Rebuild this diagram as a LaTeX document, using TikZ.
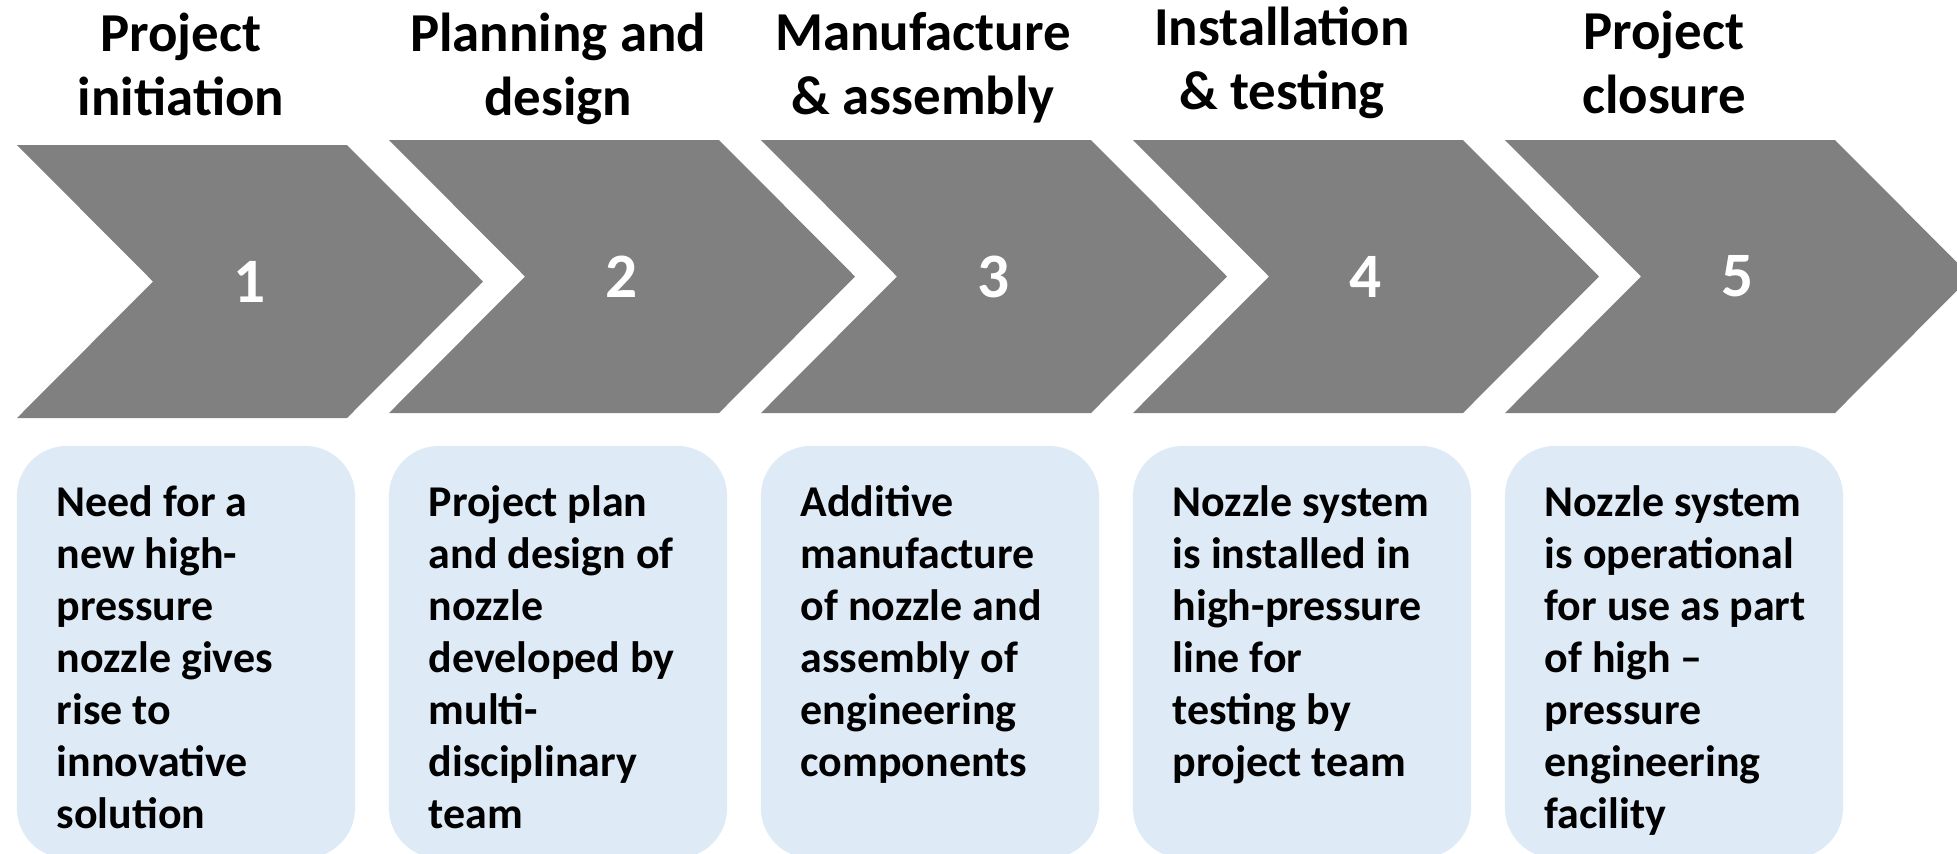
\documentclass[tikz,border=0pt]{standalone}
\usepackage{fontspec}
\setmainfont{Carlito}
\usepackage{tikz}

\definecolor{chevgray}{RGB}{128,128,128}
\definecolor{boxblue}{RGB}{222,234,246}

\begin{document}
\begin{tikzpicture}[x=0.01cm, y=-0.01cm,
    chev/.style={fill=chevgray},
    num/.style={text=white, font=\fontsize{18pt}{20pt}\selectfont\bfseries},
    title/.style={anchor=north, align=center, inner sep=0pt,
        font=\fontsize{15.6pt}{18.2pt}\selectfont\bfseries},
    descbox/.style={fill=boxblue, rounded corners=5mm, minimum width=3.38cm,
        minimum height=4.12cm, inner sep=0pt},
    desc/.style={anchor=north west, align=left, inner sep=0pt,
        font=\fontsize{12.5pt}{14.8pt}\selectfont\bfseries}]
    \useasboundingbox (0,0) rectangle (1957,853);
    \clip (0,0) rectangle (1957,853);

    % Stage titles
    \node[title] (t1) at (181,12) {Project\\initiation};
    \node[title] (t2) at (558,12) {Planning and\\design};
    \node[title] (t3) at (923,12) {Manufacture\\\& assembly};
    \node[title] (t4) at (1282,6) {Installation\\\& testing};
    \node[title] (t5) at (1664,10) {Project\\closure};

    % Chevrons
    \fill[chev] (17,145) -- ++(330,0) -- ++(136,136.5) -- ++(-136,136.5) -- ++(-330,0) -- ++(136,-136.5) -- cycle;
    \fill[chev] (389,140) -- ++(330,0) -- ++(136,136.5) -- ++(-136,136.5) -- ++(-330,0) -- ++(136,-136.5) -- cycle;
    \fill[chev] (761,140) -- ++(330,0) -- ++(136,136.5) -- ++(-136,136.5) -- ++(-330,0) -- ++(136,-136.5) -- cycle;
    \fill[chev] (1133,140) -- ++(330,0) -- ++(136,136.5) -- ++(-136,136.5) -- ++(-330,0) -- ++(136,-136.5) -- cycle;
    \fill[chev] (1505,140) -- ++(330,0) -- ++(136,136.5) -- ++(-136,136.5) -- ++(-330,0) -- ++(136,-136.5) -- cycle;

    % Step numbers
    \node[num] (n1) at (250,281.5) {1};
    \node[num] (n2) at (622,276.5) {2};
    \node[num] (n3) at (994,276.5) {3};
    \node[num] (n4) at (1366,276.5) {4};
    \node[num] (n5) at (1738,276.5) {5};

    % Description boxes
    \node[descbox] (b1) at (186,652) {};
    \node[descbox] (b2) at (558,652) {};
    \node[descbox] (b3) at (930,652) {};
    \node[descbox] (b4) at (1302,652) {};
    \node[descbox] (b5) at (1674,652) {};

    \node[desc] (d1) at (56,485) {Need for a\\new high-\\pressure\\nozzle gives\\rise to\\innovative\\solution};
    \node[desc] (d2) at (428,485) {Project plan\\and design of\\nozzle\\developed by\\multi-\\disciplinary\\team};
    \node[desc] (d3) at (800,485) {Additive\\manufacture\\of nozzle and\\assembly of\\engineering\\components};
    \node[desc] (d4) at (1172,485) {Nozzle system\\is installed in\\high-pressure\\line for\\testing by\\project team};
    \node[desc] (d5) at (1544,485) {Nozzle system\\is operational\\for use as part\\of high --\\pressure\\engineering\\facility};
\end{tikzpicture}
\end{document}
